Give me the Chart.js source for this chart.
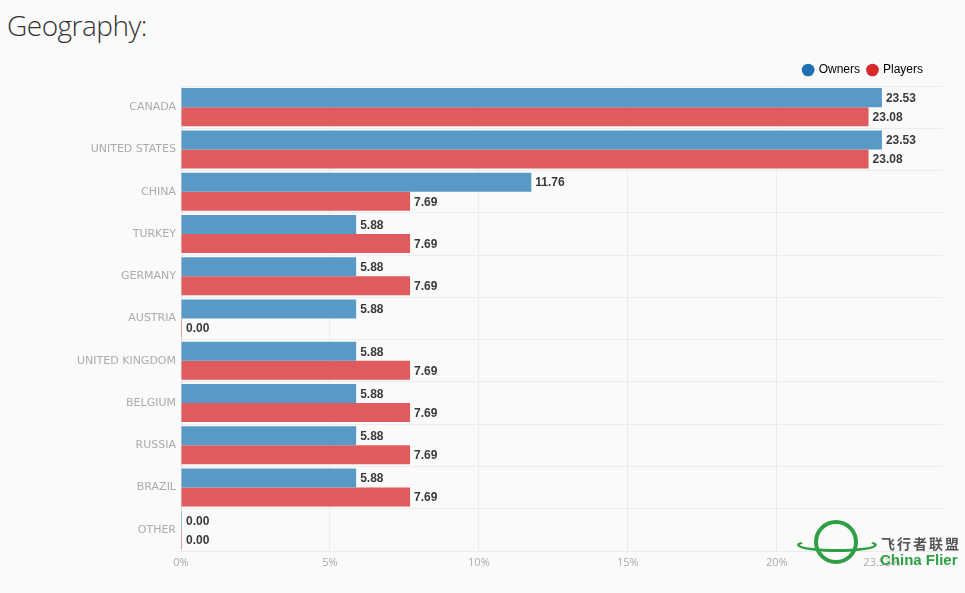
<!DOCTYPE html>
<html>
<head>
<meta charset="utf-8">
<script src="https://cdn.jsdelivr.net/npm/chart.js@4/dist/chart.umd.min.js"></script>
<style>
  html, body { margin: 0; padding: 0; background: #fafafa; }
  body { width: 965px; height: 593px; position: relative; overflow: hidden; }
  h1 {
    position: absolute; left: 7px; top: 6px; margin: 0;
    font-family: "Open Sans", sans-serif; font-weight: 300; font-size: 28px;
    color: #333; letter-spacing: -0.5px;
  }
  #wrap { position: absolute; left: 0; top: 50px; width: 965px; height: 543px; }
  /* marca d'água */
  .wm { white-space: nowrap; position: absolute; }
  .wm-ring { left: 814px; top: 520px; width: 44px; height: 44px;
    border: 4px solid #2ea043; border-radius: 50%; box-sizing: border-box; }
  .wm-orbit { left: 797px; top: 538px; width: 80px; height: 14px;
    border: 3px solid #2ea043; border-radius: 50%; box-sizing: border-box; border-top-color: transparent; }
  .wm-cn { left: 881px; top: 535px; font-family: "Noto Sans CJK SC", sans-serif;
    font-weight: 700; font-size: 14px; line-height: 16px; color: #555; letter-spacing: 2px; }
  .wm-en { left: 880px; top: 551px; font-family: "Liberation Sans", Arial, sans-serif;
    font-weight: 700; font-size: 15px; line-height: 17px; color: #2ea043; }
</style>
</head>
<body>
<h1>Geography:</h1>
<div id="wrap"><canvas id="chart"></canvas></div>
<div class="wm wm-orbit"></div>
<div class="wm wm-ring"></div>
<div class="wm wm-cn">飞行者联盟</div>
<div class="wm wm-en">China Flier</div>

<script>
const categories = ['CANADA', 'UNITED STATES', 'CHINA', 'TURKEY', 'GERMANY', 'AUSTRIA',
  'UNITED KINGDOM', 'BELGIUM', 'RUSSIA', 'BRAZIL', 'OTHER'];
const owners  = [23.53, 23.53, 11.76, 5.88, 5.88, 5.88, 5.88, 5.88, 5.88, 5.88, 0];
const players = [23.08, 23.08, 7.69, 7.69, 7.69, 0, 7.69, 7.69, 7.69, 7.69, 0];
const tickValues = [0, 5, 10, 15, 20, 23.53];
const axisMax = 25.58;

const barColors = ['#5899c6', '#e05b5e'];
const legendColors = ['#1f70b2', '#d8282c'];

// etiquetas de valor no fim de cada barra
const valueLabels = {
  id: 'valueLabels',
  afterLayout(chart) {
    // legenda um pouco afastada da borda direita
    chart.legend.right -= 12;
  },
  afterDatasetsDraw(chart) {
    const ctx = chart.ctx;
    ctx.save();
    ctx.font = 'bold 12px "Liberation Sans", Arial, sans-serif';
    ctx.fillStyle = '#3a3a3a';
    ctx.textBaseline = 'middle';
    ctx.textAlign = 'left';
    chart.data.datasets.forEach((ds, di) => {
      chart.getDatasetMeta(di).data.forEach((bar, i) => {
        ctx.fillText(ds.data[i].toFixed(2), Math.max(bar.x, bar.base) + 4, bar.y + 1);
      });
    });
    ctx.restore();
  }
};

new Chart(document.getElementById('chart'), {
  type: 'bar',
  data: {
    labels: categories,
    datasets: [
      { label: 'Owners', data: owners, backgroundColor: barColors[0] },
      { label: 'Players', data: players, backgroundColor: barColors[1] }
    ]
  },
  options: {
    indexAxis: 'y',
    responsive: true,
    maintainAspectRatio: false,
    animation: false,
    layout: { padding: { left: 0, right: 22, top: 6, bottom: 0 } },
    datasets: { bar: { categoryPercentage: 0.9, barPercentage: 1, minBarLength: 1 } },
    plugins: {
      tooltip: { enabled: false },
      legend: {
        position: 'top',
        align: 'end',
        labels: {
          usePointStyle: true,
          boxWidth: 9, boxHeight: 9,
          padding: 8,
          color: '#222',
          font: { family: '"Liberation Sans", Arial, sans-serif', size: 12 },
          generateLabels: chart => chart.data.datasets.map((ds, i) => ({
            text: ds.label, fillStyle: legendColors[i], strokeStyle: legendColors[i],
            lineWidth: 0, pointStyle: 'circle', datasetIndex: i
          }))
        }
      }
    },
    scales: {
      x: {
        min: 0, max: axisMax,
        afterBuildTicks: scale => { scale.ticks = tickValues.map(v => ({ value: v })); },
        afterFit: scale => { scale.height = 42; },
        grid: {
          drawTicks: false,
          color: ctx => (ctx.tick && ctx.tick.value === 23.53) ? 'rgba(0,0,0,0)' : '#ececec'
        },
        border: { display: false },
        ticks: {
          padding: 5, color: '#aaa',
          font: { family: '"Open Sans", sans-serif', size: 11 },
          callback: v => v + '%'
        }
      },
      y: {
        afterFit: scale => { scale.width = 181; },
        grid: { drawTicks: false, color: '#ececec', offset: true },
        border: { color: '#e2e2e2' },
        ticks: {
          padding: 5, color: '#ababab',
          font: { family: '"DejaVu Sans", sans-serif', size: 11 }
        }
      }
    }
  },
  plugins: [valueLabels]
});
</script>
</body>
</html>
